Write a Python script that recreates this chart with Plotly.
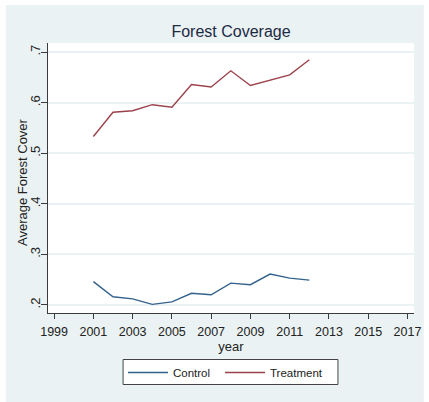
import plotly.graph_objects as go

# Average forest cover by year
years = [2001, 2002, 2003, 2004, 2005, 2006, 2007, 2008, 2009, 2010, 2011, 2012]
control = [0.246, 0.216, 0.212, 0.201, 0.206, 0.223, 0.220, 0.243, 0.240, 0.261, 0.253, 0.249]
treatment = [0.533, 0.581, 0.584, 0.596, 0.591, 0.636, 0.631, 0.663, 0.634, 0.645, 0.655, 0.685]

x_ticks = list(range(1999, 2018, 2))
y_ticks = [0.2, 0.3, 0.4, 0.5, 0.6, 0.7]
y_tick_text = [".2", ".3", ".4", ".5", ".6", ".7"]

W, H = 429, 402
BG = "#eaf2f3"
AXIS = "#3a3a3a"
FONT = "Liberation Sans, Arial, sans-serif"

fig = go.Figure()
fig.add_trace(go.Scatter(x=years, y=control, mode="lines", name="Control",
                         line=dict(color="#33628c", width=1.4), legend="legend"))
fig.add_trace(go.Scatter(x=years, y=treatment, mode="lines", name="Treatment",
                         line=dict(color="#9c424b", width=1.4), legend="legend2"))

ml, mr, mt, mb = 48, 8, 43, 89
pw, ph = W - ml - mr, H - mt - mb

def px_x(p):
    return (p - ml) / pw

def px_y(p):
    return 1 - (p - mt) / ph

# graph region background, inset from the page edge on the top and left
fig.add_shape(type="rect", xref="paper", yref="paper", layer="below",
              x0=px_x(5), x1=px_x(W + 2), y0=px_y(H + 2), y1=px_y(5),
              fillcolor=BG, line=dict(width=0))
fig.add_shape(type="rect", xref="paper", yref="paper", layer="below",
              x0=0, x1=1, y0=0, y1=1, fillcolor="white", line=dict(width=0))
# framed box behind the legend entries
fig.add_shape(type="rect", xref="paper", yref="paper", layer="below",
              x0=px_x(124.5), x1=px_x(343.5), y0=px_y(384.5), y1=px_y(359.5),
              fillcolor="white", line=dict(color="#444444", width=1))

# y axis title placed beside the rotated tick labels
fig.add_annotation(text="Average Forest Cover", xref="paper", yref="paper",
                   x=0, xanchor="center", xshift=22 - ml,
                   y=px_y(182), yanchor="middle", textangle=-90, showarrow=False,
                   font=dict(size=13, color="#222222", family=FONT))

legend_common = dict(orientation="h", xref="container", yref="container",
                     xanchor="left", y=1 - 358 / H, yanchor="top",
                     bgcolor="rgba(0,0,0,0)", borderwidth=0,
                     font=dict(size=11.5, color="#222222"), itemwidth=40,
                     itemclick=False, itemdoubleclick=False)

fig.update_layout(
    width=W, height=H,
    margin=dict(l=ml, r=mr, t=mt, b=mb),
    paper_bgcolor="white", plot_bgcolor="white",
    font=dict(family=FONT, color="#222222", size=12),
    title=dict(text="Forest Coverage", x=0.5, xref="paper", xanchor="center",
               y=1 - 31 / H, yanchor="middle",
               font=dict(size=16, color="#1c2a44", family=FONT)),
    showlegend=True,
    legend=dict(x=123 / W, **legend_common),
    legend2=dict(x=220 / W, **legend_common),
)

fig.update_xaxes(
    range=[1998.69, 2017.33], tickmode="array", tickvals=x_ticks,
    ticks="outside", ticklen=5, tickwidth=1, tickcolor=AXIS,
    ticklabelstandoff=2,
    showline=True, linecolor=AXIS, linewidth=1, showgrid=False, zeroline=False,
    tickfont=dict(size=12.5, color="#222222"),
    title=dict(text="year", font=dict(size=13, color="#222222"), standoff=0),
)
fig.update_yaxes(
    range=[0.184, 0.718], tickmode="array", tickvals=y_ticks, ticktext=y_tick_text,
    tickangle=-90, ticks="outside", ticklen=6, tickwidth=1, tickcolor=AXIS,
    ticklabelstandoff=-4,
    showline=True, linecolor=AXIS, linewidth=1,
    showgrid=True, gridcolor=BG, gridwidth=1.5, zeroline=False,
    tickfont=dict(size=13, color="#222222"),
)

fig.write_html("out.html")
